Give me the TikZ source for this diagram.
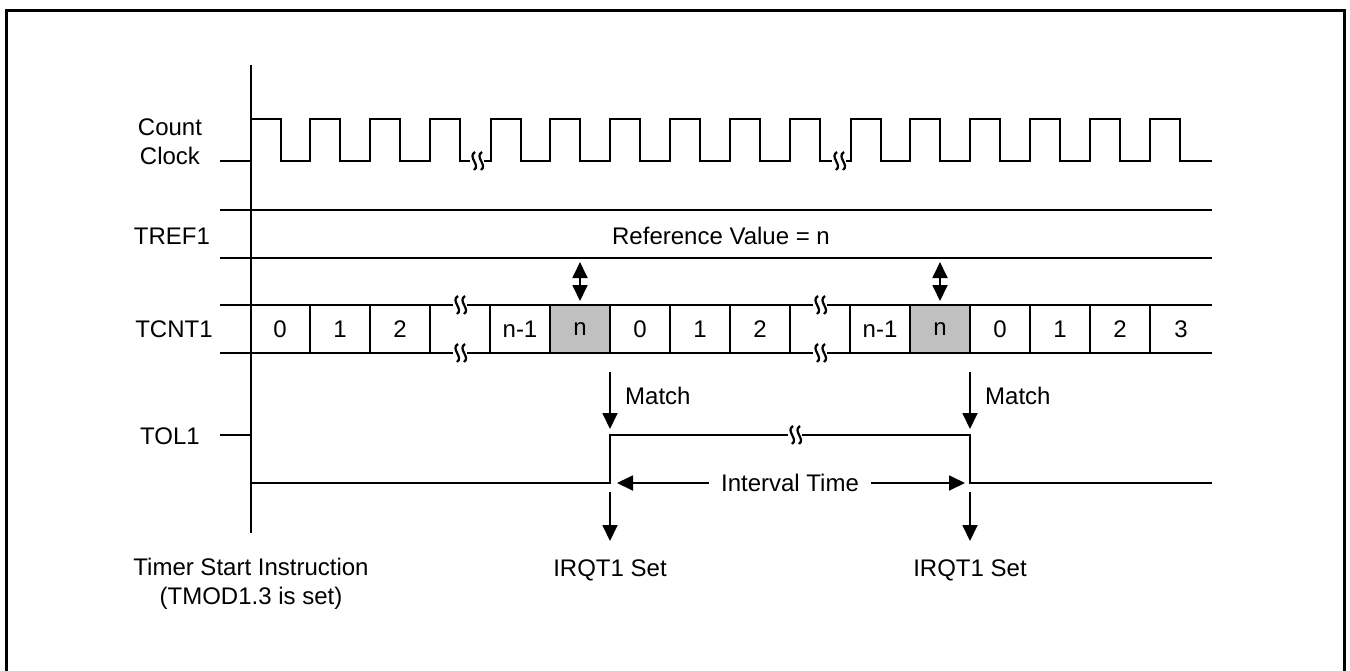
\documentclass[tikz,border=0pt]{standalone}
\usepackage{fontspec}
\setmainfont{Liberation Sans}
\usetikzlibrary{arrows.meta}
\definecolor{cellgray}{HTML}{C0C0C0}
\tikzset{
  sig/.style={line width=1.8pt, line join=miter},
  lbl/.style={font=\fontsize{24}{29}\selectfont, inner sep=0pt, align=center},
  tip/.style={-{Triangle[length=16pt,width=15pt]}},
  dtip/.style={{Triangle[length=16pt,width=15pt]}-{Triangle[length=16pt,width=15pt]}},
  brk/.pic={
    \fill[white] (-7,-4) rectangle (7,4);
    \draw[line width=2.2pt] (-2,-9) .. controls (-10,-4) and (4,4) .. (-3,9);
    \draw[line width=2.2pt] (5,-9) .. controls (-3,-4) and (11,4) .. (4,9);
  }
}
\begin{document}
\begin{tikzpicture}[x=1pt,y=-1pt]
\useasboundingbox (0,0) rectangle (1350,670);
% frame
\draw[line width=3pt] (6,675) -- (6,10) -- (1344,10) -- (1344,675);
% start axis
\draw[sig] (251,65) -- (251,533);

% labels
\node[lbl] (count) at (170,142) {Count\\Clock};
\node[lbl] (tref) at (172,236) {TREF1};
\node[lbl] (tcnt) at (174,329) {TCNT1};
\node[lbl] (tol) at (170,436) {TOL1};

% count clock
\draw[sig] (220,161) foreach \r in {251,310,370,430,491,550,610,670,730,790,851,910,970,1030,1090,1150} { -- (\r,161) -- (\r,119) -- (\r+30,119) -- (\r+30,161) } -- (1212,161);
\pic at (477,161) {brk};
\pic at (839,161) {brk};

% TREF1
\draw[sig] (220,210) -- (1212,210);
\draw[sig] (220,258) -- (1212,258);
\node[lbl] (refval) at (721,236) {Reference Value = n};

% TCNT1
\fill[cellgray] (550,305) rectangle (610,353);
\fill[cellgray] (910,305) rectangle (970,353);
\draw[sig] (220,305) -- (1212,305);
\draw[sig] (220,353) -- (1212,353);
\foreach \x in {310,370,430,490,550,610,670,730,790,850,910,970,1030,1090,1150}
  \draw[sig] (\x,305) -- (\x,353);
\pic at (460,305) {brk};
\pic at (460,353) {brk};
\pic at (820,305) {brk};
\pic at (820,353) {brk};
\foreach \x/\t/\n in {280/0/c0,340/1/c1,400/2/c2,520/n-1/c3,580/n/c4,640/0/c5,700/1/c6,760/2/c7,880/n-1/c8,940/n/c9,1000/0/c10,1060/1/c11,1120/2/c12,1181/3/c13}
  \node[lbl] (\n) at (\x,329) {\t};

% compare arrows
\coordinate (cmp1a) at (580,262); \coordinate (cmp1b) at (580,301);
\coordinate (cmp2a) at (940,262); \coordinate (cmp2b) at (940,301);
\draw[sig,dtip] (cmp1a) -- (cmp1b);
\draw[sig,dtip] (cmp2a) -- (cmp2b);

% match arrows
\node[lbl,anchor=west] (match1) at (625,396) {Match};
\node[lbl,anchor=west] (match2) at (985,396) {Match};
\coordinate (m1a) at (610,372); \coordinate (m1b) at (610,429);
\coordinate (m2a) at (970,372); \coordinate (m2b) at (970,429);
\draw[sig,tip] (m1a) -- (m1b);
\draw[sig,tip] (m2a) -- (m2b);

% TOL1
\draw[sig] (220,435) -- (251,435);
\draw[sig] (251,483) -- (610,483) -- (610,435) -- (970,435) -- (970,483) -- (1212,483);
\pic at (795,435) {brk};

% interval
\node[lbl] (ivt) at (790,483) {Interval Time};
\draw[sig,tip] ([xshift=-12pt]ivt.west) -- (617,483);
\draw[sig,tip] ([xshift=12pt]ivt.east) -- (965,483);

% IRQ arrows
\coordinate (q1a) at (610,492); \coordinate (q1b) at (610,541);
\coordinate (q2a) at (970,492); \coordinate (q2b) at (970,541);
\draw[sig,tip] (q1a) -- (q1b);
\draw[sig,tip] (q2a) -- (q2b);
\node[lbl] (irq1) at (610,570) {IRQT1 Set};
\node[lbl] (irq2) at (970,570) {IRQT1 Set};
\node[lbl] (start) at (251,584) {Timer Start Instruction\\(TMOD1.3 is set)};
\end{tikzpicture}
\end{document}
